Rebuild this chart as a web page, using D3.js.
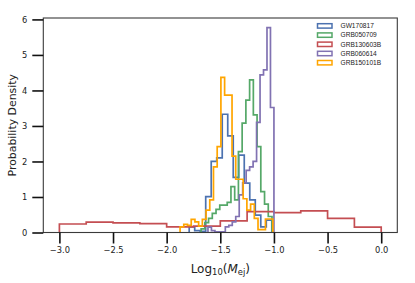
<!DOCTYPE html>
<html>
<head>
<meta charset="utf-8">
<script src="https://cdn.jsdelivr.net/npm/d3@7"></script>
<style>
  html, body { margin: 0; padding: 0; background: #fff; }
  svg { display: block; }
</style>
</head>
<body>
<svg id="chart" width="415" height="283"></svg>
<script>
// ---------------- data ----------------
const seriesNames = ["GW170817", "GRB050709", "GRB130603B", "GRB060614", "GRB150101B"];
const seriesColors = ["#4C72B0", "#55A868", "#C44E52", "#8172B2", "#FFA500"];

// bin ranges [lo, hi] in log10(Mej); bins are equal width
const rangeGW170817   = [-1.790, -1.020];
const rangeGRB050709  = [-1.679, -1.018];
const rangeGRB130603B = [-3.000,  0.000];
const rangeGRB060614  = [-1.615, -1.000];
const rangeGRB150101B = [-1.875, -1.010];

// probability densities per bin
const densGW170817 = [0.16, 0.05, 0.03, 1.01, 2.00, 2.10, 3.33, 2.72, 1.55, 2.18, 1.39, 0.92, 0.49, 0.16, 0.35];
const densGRB050709 = [0.10, 0.28, 0.40, 0.54, 0.65, 0.77, 0.77, 0.85, 1.29, 0.92, 2.28, 3.08, 3.73, 4.30, 3.31, 2.42, 1.15, 0.80, 0.45];
const densGRB130603B = [0.24, 0.29, 0.27, 0.25, 0.16, 0.18, 0.33, 0.59, 0.56, 0.61, 0.40, 0.15];
const densGRB060614 = [0.15, 0.05, 0.02, 0.02, 0.02, 0.16, 0.20, 0.30, 0.45, 1.06, 1.40, 1.75, 1.85, 2.00, 3.10, 4.44, 4.58, 5.77, 3.52];
const densGRB150101B = [0.16, 0.23, 0.20, 0.37, 0.30, 0.18, 0.37, 0.63, 0.92, 1.85, 2.42, 4.37, 3.87, 3.87, 2.15, 1.50, 1.50, 0.95, 0.63, 0.80, 0.40, 0.08, 0.08, 0.38, 0.38];

const xTicks = [-3.0, -2.5, -2.0, -1.5, -1.0, -0.5, 0.0];
const yTicks = [0, 1, 2, 3, 4, 5, 6];
const xDomain = [-3.15, 0.15];
const yDomain = [0, 6.04];

const ranges = [rangeGW170817, rangeGRB050709, rangeGRB130603B, rangeGRB060614, rangeGRB150101B];
const dens = [densGW170817, densGRB050709, densGRB130603B, densGRB060614, densGRB150101B];

// ---------------- layout ----------------
const svg = d3.select("#chart");
const L = 43.3, R = 397.3, T = 18, B = 232.5;

const x = d3.scaleLinear().domain(xDomain).range([L, R]);
const y = d3.scaleLinear().domain(yDomain).range([B, T]);

// histogram step outlines
const line = d3.line().x(d => x(d[0])).y(d => y(d[1]));
const g = svg.append("g");
dens.forEach((vals, i) => {
  const [lo, hi] = ranges[i];
  const n = vals.length;
  const edges = d3.range(n + 1).map(k => lo + (hi - lo) * k / n);
  const pts = [[edges[0], 0]];
  vals.forEach((v, k) => { pts.push([edges[k], v]); pts.push([edges[k + 1], v]); });
  pts.push([edges[n], 0]);
  g.append("path")
    .attr("d", line(pts))
    .attr("fill", "none")
    .attr("stroke", seriesColors[i])
    .attr("stroke-width", 1.7)
    .attr("stroke-linejoin", "miter");
});

// spines
svg.append("rect")
  .attr("x", L).attr("y", T).attr("width", R - L).attr("height", B - T)
  .attr("fill", "none").attr("stroke", "#3a3a3a").attr("stroke-width", 1.1);

// axes
const tickFont = "DejaVu Sans, sans-serif";
const fmtX = d => d3.format(".1f")(d).replace("-", "\u2212");
const xAxis = d3.axisBottom(x).tickValues(xTicks).tickFormat(fmtX).tickSizeOuter(0).tickSize(11).tickPadding(3.5);
const yAxis = d3.axisLeft(y).tickValues(yTicks).tickFormat(d3.format("d")).tickSizeOuter(0).tickSize(11).tickPadding(5);

const gx = svg.append("g").attr("transform", `translate(0,${B})`).call(xAxis);
const gy = svg.append("g").attr("transform", `translate(${L},0)`).call(yAxis);
[gx, gy].forEach(a => {
  a.select(".domain").remove();
  a.selectAll(".tick line").attr("stroke", "#111").attr("stroke-width", 1.6);
  a.selectAll(".tick text").attr("fill", "#222").style("font-family", tickFont).style("font-size", "8.3px");
});

// axis labels
svg.append("text")
  .attr("transform", `translate(15.5,${(T + B) / 2}) rotate(-90)`)
  .attr("text-anchor", "middle")
  .style("font-family", "DejaVu Sans, sans-serif")
  .style("font-size", "10.9px")
  .attr("fill", "#222")
  .text("Probability Density");

const xl = svg.append("text")
  .attr("x", (L + R) / 2).attr("y", 272.5)
  .attr("text-anchor", "middle")
  .style("font-family", "DejaVu Sans, sans-serif")
  .style("font-size", "12px")
  .attr("fill", "#222");
xl.append("tspan").text("Log");
xl.append("tspan").attr("dy", 2.5).style("font-size", "8.4px").text("10");
xl.append("tspan").attr("dy", -2.5).text("(");
xl.append("tspan").style("font-style", "italic").text("M");
xl.append("tspan").attr("dy", 2.5).style("font-size", "8.4px").text("ej");
xl.append("tspan").attr("dy", -2.5).text(")");

// legend
const lg = svg.append("g");
seriesNames.forEach((name, i) => {
  const cy = 25.9 + i * 9.2;
  lg.append("rect")
    .attr("x", 317.5).attr("y", cy - 2.2).attr("width", 14.5).attr("height", 4.4)
    .attr("fill", "none").attr("stroke", seriesColors[i]).attr("stroke-width", 1.5);
  lg.append("text")
    .attr("x", 340.5).attr("y", cy + 2.3)
    .style("font-family", "Liberation Sans, Arial, sans-serif")
    .style("font-size", "6.6px")
    .attr("fill", "#222")
    .text(name);
});
</script>
</body>
</html>
